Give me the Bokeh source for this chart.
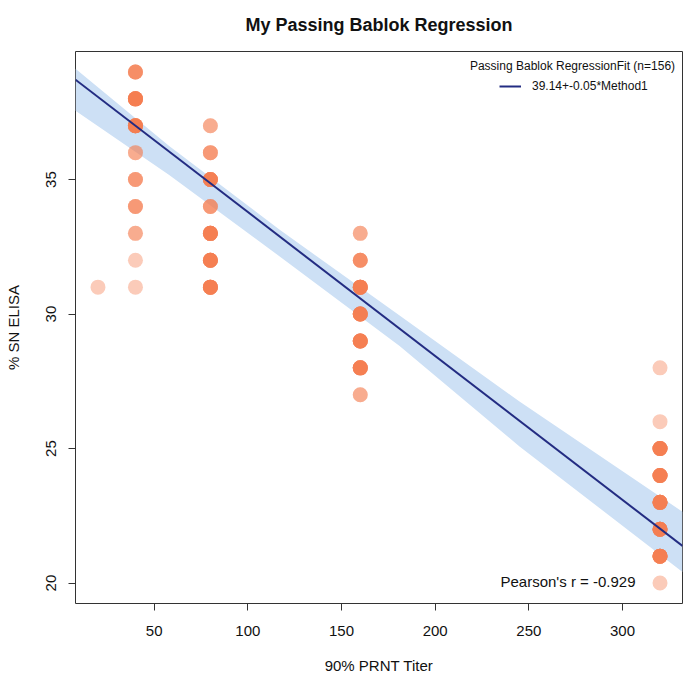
import numpy as np
from bokeh.plotting import figure
from bokeh.models import Range1d, Label, Legend, LegendItem, FixedTicker
from bokeh.embed import file_html
from bokeh.resources import INLINE

# ---- data ----
pt_x = [20,
        40, 40, 40, 40, 40, 40, 40, 40, 40,
        80, 80, 80, 80, 80, 80, 80,
        160, 160, 160, 160, 160, 160, 160,
        320, 320, 320, 320, 320, 320, 320, 320]
pt_y = [31,
        31, 32, 33, 34, 35, 36, 37, 38, 39,
        31, 32, 33, 34, 35, 36, 37,
        27, 28, 29, 30, 31, 32, 33,
        20, 21, 22, 23, 24, 25, 26, 28]
pt_n = [1,
        1, 1, 2, 3, 3, 2, 8, 9, 4,
        8, 8, 8, 3, 7, 3, 2,
        2, 8, 8, 8, 8, 4, 2,
        1, 8, 8, 8, 8, 8, 1, 1]

fit_intercept = 39.14
fit_slope = -0.0535

band_x = [8, 58, 117, 181, 245, 332]
band_lo = [37.56, 35.17, 32.14, 28.81, 25.08, 20.41]
band_hi = [39.12, 36.25, 33.13, 29.95, 26.75, 22.65]

x_ticks = [50, 100, 150, 200, 250, 300]
y_ticks = [20, 25, 30, 35]

title_text = "My Passing Bablok Regression"
x_label = "90% PRNT Titer"
y_label = "% SN ELISA"
legend_title = "Passing Bablok RegressionFit (n=156)"
legend_label = "39.14+-0.05*Method1"
pearson_text = "Pearson's r = -0.929"

FONT = "Liberation Sans"

# ---- figure ----
x0, x1 = 8, 332
y0, y1 = 19.24, 39.76
p = figure(width=684, height=676, output_backend="svg", toolbar_location=None,
           x_range=Range1d(x0, x1), y_range=Range1d(y0, y1),
           min_border_left=75, min_border_right=2, min_border_top=51, min_border_bottom=73)
p.grid.visible = False
p.outline_line_color = "#333333"
p.outline_line_width = 1
p.background_fill_color = "white"
p.border_fill_color = "white"

p.title.text = title_text
p.title.align = "center"
p.title.vertical_align = "top"
p.title.text_font = FONT
p.title.text_font_size = "18px"
p.title.text_font_style = "bold"
p.title.text_color = "#111111"
p.title.standoff = 29

# band
p.varea(x=band_x, y1=band_lo, y2=band_hi, fill_color="#CDE0F5", fill_alpha=1.0)

# points (each observation drawn with alpha)
ox = np.repeat(pt_x, pt_n)
oy = np.repeat(pt_y, pt_n)
p.scatter(x=ox, y=oy, size=15, fill_color="#F57D50", fill_alpha=0.4, line_color=None)

# fit line
lx = np.array([x0, x1], dtype=float)
line_r = p.line(x=lx, y=fit_intercept + fit_slope * lx, line_color="#232C82", line_width=2)

# axes
for ax in (p.xaxis[0], p.yaxis[0]):
    ax.axis_line_color = None
    ax.major_tick_line_color = "#333333"
    ax.major_tick_out = 7
    ax.major_tick_in = 0
    ax.minor_tick_line_color = None
    ax.major_label_text_font = FONT
    ax.major_label_text_font_size = "15px"
    ax.major_label_text_color = "#111111"
    ax.axis_label_text_font = FONT
    ax.axis_label_text_font_size = "15px"
    ax.axis_label_text_font_style = "normal"
    ax.axis_label_text_color = "#111111"
p.xaxis[0].ticker = FixedTicker(ticks=x_ticks)
p.yaxis[0].ticker = FixedTicker(ticks=y_ticks)
p.xaxis[0].axis_label = x_label
p.yaxis[0].axis_label = y_label
p.xaxis[0].major_label_standoff = 15
p.xaxis[0].axis_label_standoff = 18
p.yaxis[0].major_label_orientation = "vertical"
p.yaxis[0].major_label_standoff = 12
p.yaxis[0].axis_label_standoff = 22

# legend
leg = Legend(items=[LegendItem(label=legend_label, renderers=[line_r])],
             location=(424, 510), padding=0, margin=0, border_line_color=None,
             background_fill_alpha=0, glyph_width=22, glyph_height=14, label_height=14,
             label_standoff=11, label_text_font=FONT, label_text_font_size="12px",
             label_text_color="#111111")
p.add_layout(leg, "center")
p.add_layout(Label(x=497, y=538, x_units="screen", y_units="screen", text=legend_title,
                   text_font=FONT, text_font_size="12px", text_align="center",
                   text_baseline="middle", text_color="#111111"))

# pearson text
p.add_layout(Label(x=560, y=22, x_units="screen", y_units="screen", text=pearson_text,
                   text_font=FONT, text_font_size="15px", text_align="right",
                   text_baseline="middle", text_color="#111111"))

open("out.html", "w").write(file_html(p, INLINE))
